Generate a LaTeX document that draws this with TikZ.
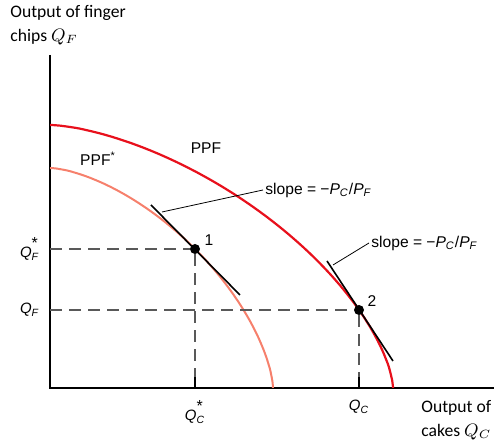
\documentclass[tikz,border=0pt]{standalone}
\usepackage{fontspec}
\setmainfont{Liberation Sans}
\newfontfamily\calfont{Carlito}
\usetikzlibrary{positioning,calc}
\definecolor{ppfred}{RGB}{232,16,28}
\definecolor{ppfsalmon}{RGB}{246,128,108}
\newcommand{\qsym}[2]{\textit{#1}\textsubscript{\textit{#2}}}
\newcommand{\qstar}[2]{\textit{#1}\makebox[0pt][l]{\raisebox{1.2ex}{\footnotesize*}}\textsubscript{\textit{#2}}}
\tikzset{
    axisline/.style={line width=1pt},
    guideline/.style={draw=black!65, line width=0.6pt, dash pattern=on 6pt off 3.5pt},
    tangentline/.style={line width=0.8pt},
    leaderline/.style={line width=0.4pt},
    ticklabel/.style={font=\fontsize{7.5}{9}\selectfont, inner sep=1pt},
    curvelabel/.style={font=\fontsize{7.8}{9}\selectfont, inner sep=1pt},
    axistitle/.style={font=\calfont\fontsize{8.8}{12}\selectfont, align=left, inner sep=0pt},
    optdot/.style={circle, fill=black, inner sep=0pt, minimum size=5pt},
    frontier/.style={line width=1.1pt, samples=120, domain=0.01:89.99, variable=\t}
}

\begin{document}
\begin{tikzpicture}[x=0.5pt, y=0.5pt]
\useasboundingbox (-50,-54) rectangle (444,388);
% axes
\coordinate (origin) at (0,0);
\coordinate (ytop) at (0,333);
\coordinate (xend) at (444,0);
\draw[axisline] (ytop) -- (origin) -- (xend);
\node[axistitle, anchor=north west] (ytitle) at (-40,383) {Output of finger\\chips $Q_F$};
\node[axistitle, anchor=north west] (xtitle) at (371,-12) {Output of\\cakes $Q_C$};

% production possibility frontiers (superellipses)
\draw[frontier, ppfsalmon, line width=1pt]
    plot ({223*pow(cos(\t),1.282)}, {220*pow(sin(\t),1.282)});
\draw[frontier, ppfred]
    plot ({343*pow(cos(\t),1.282)}, {263*pow(sin(\t),1.282)});
\node[curvelabel] (ppf) at (156,240) {PPF};
\node[curvelabel] (ppfstar) at (48,229) {PPF\textsuperscript{*}};

% points of tangency
\node[optdot] (p1) at (145,139) {};
\node[optdot] (p2) at (309,78) {};
\node[curvelabel] (n1) at (159,148) {1};
\node[curvelabel] (n2) at (322,87) {2};

% guide lines and ticks
\coordinate (yq1) at (0,139);
\coordinate (yq2) at (0,78);
\coordinate (xq1) at (145,0);
\coordinate (xq2) at (309,0);
\draw[guideline] (yq1) -- (p1) -- (xq1);
\draw[guideline] (yq2) -- (p2) -- (xq2);
\draw[line width=0.6pt] (xq1) -- ++(0,11);
\draw[line width=0.6pt] (xq2) -- ++(0,11);
\node[ticklabel, left=4pt of yq1] (qfstar) {\qstar{Q}{F}};
\node[ticklabel, left=4pt of yq2] (qf) {\qsym{Q}{F}};
\node[ticklabel, below=5pt of xq1] (qcstar) {\qstar{Q}{C}};
\node[ticklabel, below=5pt of xq2] (qc) {\qsym{Q}{C}};

% tangent lines
\coordinate (t1a) at (101,183);
\coordinate (t1b) at (190,93);
\coordinate (t2a) at (277,127);
\coordinate (t2b) at (343,27);
\draw[tangentline] (t1a) -- (t1b);
\draw[tangentline] (t2a) -- (t2b);

% slope labels
\node[curvelabel, anchor=west] (slope1) at (213,198) {slope = −\qsym{P}{C}/\qsym{P}{F}};
\node[curvelabel, anchor=west] (slope2) at (319,145) {slope = −\qsym{P}{C}/\qsym{P}{F}};
\coordinate (l1) at (112,176);
\coordinate (l2) at (283,123);
\draw[leaderline] (l1) -- (slope1.west);
\draw[leaderline] (l2) -- (slope2.west);
\end{tikzpicture}
\end{document}
